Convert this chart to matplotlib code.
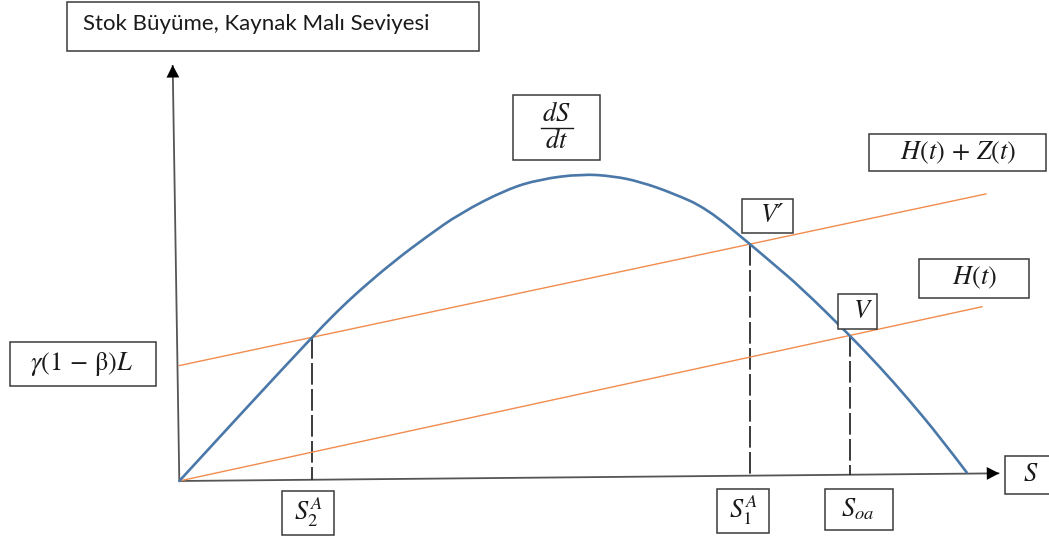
import numpy as np
import matplotlib.pyplot as plt
from matplotlib.patches import Rectangle, PathPatch
from matplotlib.path import Path
from matplotlib.lines import Line2D

plt.rcParams['mathtext.fontset'] = 'stix'

# Stock growth curve dS/dt sampled along the stock axis S
stock = [0.0, 8.43, 16.81, 19.98, 22.94, 27.17, 31.41, 35.64, 41.56,
         45.79, 51.09, 55.10, 58.49, 62.71, 66.95, 72.58, 75.41, 78.80,
         85.06, 88.95, 92.35, 96.57, 99.96]
growth = [0.0, 23.6, 46.7, 55.1, 62.2, 71.4, 79.6, 87.2, 95.0,
          98.3, 100.0, 99.3, 97.5, 93.7, 88.8, 76.9, 70.7, 63.3,
          47.6, 37.1, 27.3, 14.3, 2.8]

# Harvest H(t) and harvest plus extra pressure H(t) + Z(t)
h_intercept, h_slope, h_end = 0.0, 0.557, 101.9
hz_intercept, hz_slope, hz_end = 37.6, 0.546, 102.4

# Axis end points
x_axis_end = (104.1, 2.5)
y_axis_end = (-0.84, 135.5)

W, H = 1049, 537
fig = plt.figure(figsize=(W / 100, H / 100), dpi=100)
ax = fig.add_axes([0, 0, 1, 1])
sx, sy = 7.877, 3.07        # pixels per unit along S and along growth
ox, oy = 179.3, 481.0       # pixel position of the origin
ax.set_xlim(-ox / sx, (W - ox) / sx)
ax.set_ylim(-(H - oy) / sy, oy / sy)
ax.axis('off')

BLUE = '#4A78A8'
ORANGE = '#F28C4E'
EDGE = '#3a3a3a'
INK = '#1a1a1a'
SERIF_ITALIC = ['STIXGeneral', 'DejaVu Serif']

stock_a = np.array(stock)
growth_a = np.array(growth)


def axis_level(s):
    return x_axis_end[1] / x_axis_end[0] * s


def crossings(a, b):
    d = growth_a - (a + b * stock_a)
    out = []
    for i in range(len(d) - 1):
        if d[i] * d[i + 1] < 0:
            t = d[i] / (d[i] - d[i + 1])
            s = stock_a[i] + t * (stock_a[i + 1] - stock_a[i])
            out.append((s, a + b * s))
    return out


def smooth_path(xs, ys):
    """Quadratic B-spline path using the samples as control points."""
    pts = np.column_stack([xs, ys])
    verts = [pts[0]]
    codes = [Path.MOVETO]
    n = len(pts)
    for i in range(1, n - 1):
        end = pts[i + 1] if i == n - 2 else (pts[i] + pts[i + 1]) / 2
        verts += [pts[i], end]
        codes += [Path.CURVE3, Path.CURVE3]
    return Path(verts, codes)


# axes with arrow heads
for end in (x_axis_end, y_axis_end):
    ax.plot([0, end[0]], [0, end[1]], color='#555555', lw=1.3,
            solid_capstyle='butt', zorder=2)
    ax.annotate('', xy=end, xytext=(0, 0),
                arrowprops=dict(arrowstyle='-|>,head_length=0.45,head_width=0.23',
                                color='black', lw=0, mutation_scale=20,
                                shrinkA=0, shrinkB=0),
                zorder=3)

# harvest lines
ax.plot([0, h_end], [h_intercept, h_intercept + h_slope * h_end],
        color=ORANGE, lw=1.0, zorder=3)
ax.plot([0, hz_end], [hz_intercept, hz_intercept + hz_slope * hz_end],
        color=ORANGE, lw=1.0, zorder=3)

# growth curve
ax.add_patch(PathPatch(smooth_path(stock, growth), fill=False,
                       edgecolor=BLUE, lw=1.9, zorder=4, capstyle='round'))

# equilibrium drop lines
hz_cross = crossings(hz_intercept, hz_slope)
h_cross = crossings(h_intercept, h_slope)
for s, g in [hz_cross[0], hz_cross[-1], h_cross[-1]]:
    ax.plot([s, s], [g, axis_level(s)], color='#2b2b2b', lw=1.3,
            linestyle=(0, (12, 2.4)), zorder=2)


def px(x, y):
    return x / W, 1 - y / H


def box(l, t, r, b):
    fig.add_artist(Rectangle(px(l, b), (r - l) / W, (b - t) / H,
                             transform=fig.transFigure, fill=True,
                             facecolor='white', edgecolor=EDGE, lw=1.1,
                             zorder=5))


def label(x, y, s, size=19, **kw):
    fig.text(*px(x, y), s, ha=kw.pop('ha', 'center'), va='center',
             fontsize=size, color=INK, zorder=6, **kw)


box(66.7, 1.7, 479, 50.7)
label(83, 24, 'Stok Büyüme, Kaynak Malı Seviyesi', size=16,
      ha='left', family='Lato')

box(10, 342, 155.7, 386)
label(82, 364, r'$\gamma(1\,-\,\mathrm{\beta})L$', size=19)

box(513.3, 95, 600, 160)
label(556.5, 114, r'$dS$', size=19)
label(556.5, 141, r'$dt$', size=19)
fig.add_artist(Line2D([541 / W, 573 / W], [1 - 127.5 / H, 1 - 127.5 / H],
                      transform=fig.transFigure, color=INK, lw=1.0, zorder=6))

box(869.3, 134, 1045.5, 171)
label(958, 153, r'$H(t)\,+\,Z(t)$', size=19)

box(741.7, 199.3, 793.3, 233.3)
label(772, 216, 'V\u2032', size=19, family=SERIF_ITALIC, style='italic')

box(919.3, 259.3, 1029.3, 297.7)
label(974, 278, r'$H(t)$', size=19)

box(838.3, 294, 877.3, 329.3)
label(862, 312, 'V', size=19, family=SERIF_ITALIC, style='italic')

box(282.3, 491, 334, 535)
label(308, 512, r'$S_2^A$', size=19)

box(717.3, 489, 769.3, 532.7)
label(743.5, 510, r'$S_1^A$', size=19)

box(825, 489, 892.7, 530)
label(858, 509, r'$S_{oa}$', size=19)

box(1005, 456, 1060, 494)
label(1030, 475, 'S', size=19, family=SERIF_ITALIC, style='italic')

fig.savefig('out.png', dpi=100, facecolor='white')
